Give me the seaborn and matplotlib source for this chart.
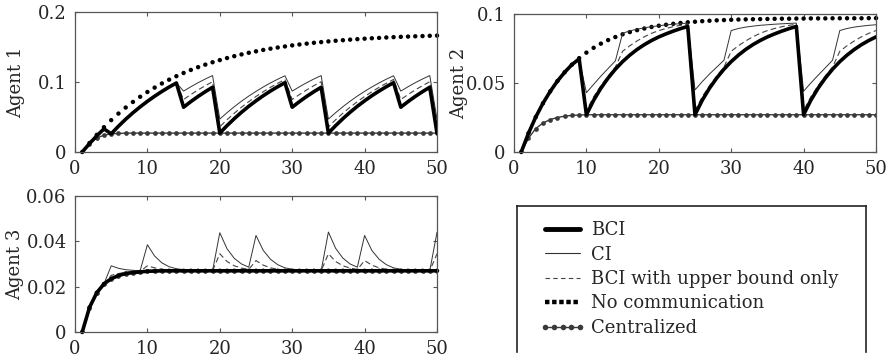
import matplotlib
matplotlib.use("Agg")
import matplotlib.pyplot as plt
import seaborn as sns
from matplotlib.lines import Line2D
from matplotlib.ticker import FixedLocator, FuncFormatter

# ---------------- data ----------------
time = list(range(1, 51))
x_ticks = [0, 10, 20, 30, 40, 50]
agent_names = ["Agent 1", "Agent 2", "Agent 3"]
y_ticks_1 = [0, 0.1, 0.2]
y_ticks_2 = [0, 0.05, 0.1]
y_ticks_3 = [0, 0.02, 0.04, 0.06]
series_names = ["BCI", "CI", "BCI with upper bound only", "No communication", "Centralized"]

# Agent 1
bci_1 = [0, 0.012, 0.023, 0.033, 0.026, 0.0368, 0.0468, 0.0560, 0.0645, 0.0724,
         0.0797, 0.0865, 0.0928, 0.0986, 0.0640, 0.0720, 0.0794, 0.0862, 0.0925, 0.0270,
         0.0377, 0.0476, 0.0568, 0.0653, 0.0731, 0.0804, 0.0871, 0.0933, 0.0990, 0.0640,
         0.0720, 0.0794, 0.0862, 0.0925, 0.0270, 0.0377, 0.0476, 0.0568, 0.0653, 0.0731,
         0.0804, 0.0871, 0.0933, 0.0990, 0.0640, 0.0720, 0.0794, 0.0862, 0.0925, 0.0270]
ci_1 = [0, 0.012, 0.023, 0.033, 0.026, 0.0368, 0.0468, 0.0560, 0.0645, 0.0724,
        0.0797, 0.0865, 0.0928, 0.0986, 0.0870, 0.0932, 0.0990, 0.1043, 0.1092, 0.0470,
        0.0562, 0.0647, 0.0726, 0.0799, 0.0866, 0.0929, 0.0987, 0.1040, 0.1089, 0.0870,
        0.0932, 0.0990, 0.1043, 0.1092, 0.0470, 0.0562, 0.0647, 0.0726, 0.0799, 0.0866,
        0.0929, 0.0987, 0.1040, 0.1089, 0.0870, 0.0932, 0.0990, 0.1043, 0.1092, 0.0470]
ub_1 = [0, 0.012, 0.023, 0.033, 0.026, 0.0368, 0.0468, 0.0560, 0.0645, 0.0724,
        0.0797, 0.0865, 0.0928, 0.0986, 0.0750, 0.0821, 0.0887, 0.0948, 0.1004, 0.0360,
        0.0461, 0.0554, 0.0640, 0.0719, 0.0793, 0.0861, 0.0924, 0.0982, 0.1036, 0.0750,
        0.0821, 0.0887, 0.0948, 0.1004, 0.0360, 0.0461, 0.0554, 0.0640, 0.0719, 0.0793,
        0.0861, 0.0924, 0.0982, 0.1036, 0.0750, 0.0821, 0.0887, 0.0948, 0.1004, 0.0360]
nocomm_1 = [0, 0.0128, 0.0245, 0.0354, 0.0455, 0.0549, 0.0635, 0.0715, 0.0789, 0.0857,
            0.0920, 0.0979, 0.1033, 0.1083, 0.1129, 0.1172, 0.1212, 0.1248, 0.1282, 0.1313,
            0.1342, 0.1369, 0.1394, 0.1417, 0.1438, 0.1458, 0.1476, 0.1493, 0.1508, 0.1523,
            0.1536, 0.1548, 0.1560, 0.1570, 0.1580, 0.1589, 0.1597, 0.1605, 0.1612, 0.1619,
            0.1625, 0.1630, 0.1636, 0.1641, 0.1645, 0.1649, 0.1653, 0.1656, 0.1660, 0.1663]
cent_1 = [0, 0.012, 0.020, 0.024, 0.026, 0.0265, 0.027, 0.027, 0.027, 0.027,
          0.027, 0.027, 0.027, 0.027, 0.027, 0.027, 0.027, 0.027, 0.027, 0.027,
          0.027, 0.027, 0.027, 0.027, 0.027, 0.027, 0.027, 0.027, 0.027, 0.027,
          0.027, 0.027, 0.027, 0.027, 0.027, 0.027, 0.027, 0.027, 0.027, 0.027,
          0.027, 0.027, 0.027, 0.027, 0.027, 0.027, 0.027, 0.027, 0.027, 0.027]

# Agent 2
bci_2 = [0, 0.0136, 0.0253, 0.0353, 0.0439, 0.0514, 0.0578, 0.0633, 0.0675, 0.0270,
         0.0375, 0.0462, 0.0536, 0.0600, 0.0655, 0.0702, 0.0743, 0.0778, 0.0808, 0.0834,
         0.0856, 0.0876, 0.0894, 0.0910, 0.0270, 0.0375, 0.0462, 0.0536, 0.0600, 0.0655,
         0.0702, 0.0743, 0.0778, 0.0808, 0.0834, 0.0856, 0.0876, 0.0894, 0.0910, 0.0270,
         0.0375, 0.0462, 0.0536, 0.0600, 0.0655, 0.0702, 0.0743, 0.0778, 0.0808, 0.0834]
ci_2 = [0, 0.0136, 0.0253, 0.0353, 0.0439, 0.0514, 0.0578, 0.0633, 0.0675, 0.0430,
        0.0490, 0.0550, 0.0605, 0.0660, 0.0860, 0.0878, 0.0890, 0.0900, 0.0908, 0.0915,
        0.0921, 0.0926, 0.0930, 0.0934, 0.0450, 0.0510, 0.0565, 0.0615, 0.0665, 0.0880,
        0.0895, 0.0905, 0.0912, 0.0918, 0.0922, 0.0926, 0.0929, 0.0932, 0.0934, 0.0440,
        0.0500, 0.0556, 0.0610, 0.0665, 0.0880, 0.0895, 0.0905, 0.0912, 0.0918, 0.0922]
ub_2 = [0, 0.0136, 0.0253, 0.0353, 0.0439, 0.0514, 0.0578, 0.0633, 0.0675, 0.0300,
        0.0400, 0.0480, 0.0550, 0.0615, 0.0730, 0.0770, 0.0805, 0.0835, 0.0860, 0.0880,
        0.0895, 0.0908, 0.0918, 0.0926, 0.0300, 0.0400, 0.0480, 0.0550, 0.0615, 0.0730,
        0.0770, 0.0805, 0.0835, 0.0860, 0.0880, 0.0895, 0.0908, 0.0918, 0.0926, 0.0300,
        0.0400, 0.0480, 0.0550, 0.0615, 0.0730, 0.0770, 0.0805, 0.0835, 0.0860, 0.0880]
nocomm_2 = [0, 0.0136, 0.0253, 0.0353, 0.0439, 0.0514, 0.0578, 0.0633, 0.0680, 0.0720,
            0.0755, 0.0785, 0.0811, 0.0833, 0.0853, 0.0869, 0.0883, 0.0895, 0.0906, 0.0915,
            0.0922, 0.0929, 0.0935, 0.0940, 0.0944, 0.0948, 0.0951, 0.0954, 0.0956, 0.0958,
            0.0960, 0.0961, 0.0962, 0.0963, 0.0964, 0.0965, 0.0966, 0.0966, 0.0967, 0.0967,
            0.0968, 0.0968, 0.0968, 0.0969, 0.0969, 0.0969, 0.0969, 0.0969, 0.0970, 0.0970]
cent_2 = [0, 0.0100, 0.0170, 0.0210, 0.0235, 0.0250, 0.0260, 0.0265, 0.0268, 0.0270,
          0.027, 0.027, 0.027, 0.027, 0.027, 0.027, 0.027, 0.027, 0.027, 0.027,
          0.027, 0.027, 0.027, 0.027, 0.027, 0.027, 0.027, 0.027, 0.027, 0.027,
          0.027, 0.027, 0.027, 0.027, 0.027, 0.027, 0.027, 0.027, 0.027, 0.027,
          0.027, 0.027, 0.027, 0.027, 0.027, 0.027, 0.027, 0.027, 0.027, 0.027]

# Agent 3
bci_3 = [0, 0.0108, 0.0173, 0.0212, 0.0235, 0.0249, 0.0258, 0.0262, 0.0265, 0.0268,
         0.0269, 0.0270, 0.0270, 0.0270, 0.0270, 0.0270, 0.0270, 0.0270, 0.0270, 0.0270,
         0.0270, 0.0270, 0.0270, 0.0270, 0.0270, 0.0270, 0.0270, 0.0270, 0.0270, 0.0270,
         0.0270, 0.0270, 0.0270, 0.0270, 0.0270, 0.0270, 0.0270, 0.0270, 0.0270, 0.0270,
         0.0270, 0.0270, 0.0270, 0.0270, 0.0270, 0.0270, 0.0270, 0.0270, 0.0270, 0.0270]
ci_3 = [0, 0.0108, 0.0173, 0.0212, 0.0292, 0.0281, 0.0275, 0.0272, 0.0271, 0.0385,
        0.0335, 0.0305, 0.0288, 0.0279, 0.0275, 0.0272, 0.0271, 0.0270, 0.0270, 0.0438,
        0.0367, 0.0325, 0.0300, 0.0286, 0.0426, 0.0360, 0.0321, 0.0297, 0.0283, 0.0277,
        0.0274, 0.0272, 0.0271, 0.0270, 0.0441, 0.0369, 0.0326, 0.0300, 0.0286, 0.0426,
        0.0360, 0.0321, 0.0297, 0.0283, 0.0277, 0.0274, 0.0272, 0.0271, 0.0270, 0.0440]
ub_3 = [0, 0.0108, 0.0173, 0.0212, 0.0250, 0.0258, 0.0263, 0.0266, 0.0268, 0.0292,
        0.0283, 0.0277, 0.0273, 0.0271, 0.0270, 0.0270, 0.0270, 0.0270, 0.0270, 0.0345,
        0.0311, 0.0292, 0.0282, 0.0276, 0.0315, 0.0295, 0.0283, 0.0277, 0.0273, 0.0271,
        0.0270, 0.0270, 0.0270, 0.0270, 0.0345, 0.0311, 0.0292, 0.0282, 0.0276, 0.0315,
        0.0295, 0.0283, 0.0277, 0.0273, 0.0271, 0.0270, 0.0270, 0.0270, 0.0270, 0.0345]
nocomm_3 = bci_3
cent_3 = bci_3

# ---------------- style ----------------
sns.set_theme(style="ticks")
plt.rcParams["font.family"] = ["DejaVu Serif"]
plt.rcParams["font.size"] = 13
plt.rcParams["axes.linewidth"] = 0.9
plt.rcParams["axes.edgecolor"] = "#555555"

W, H = 890, 361
fig = plt.figure(figsize=(W / 100, H / 100), dpi=100)
fig.patch.set_facecolor("white")


def px_axes(left, top, right, bottom):
    return fig.add_axes([left / W, 1 - bottom / H, (right - left) / W, (bottom - top) / H])


fmt = FuncFormatter(lambda v, p: f"{v:g}")

C_BCI = "#000000"
C_CI = "#333333"
C_UB = "#444444"
C_NC = "#000000"
C_CEN = "#3a3a3a"


def draw(ax, bci, ci, ub, nc, cen, yticks, name, label_x):
    sns.scatterplot(x=time, y=nc, ax=ax, color=C_NC, s=10, edgecolor="none",
                    legend=False, zorder=2, clip_on=False)
    sns.lineplot(x=time, y=cen, ax=ax, color=C_CEN, lw=1.0, marker="o", ms=3.4,
                 markeredgewidth=0, zorder=2.5)
    sns.lineplot(x=time, y=ub, ax=ax, color=C_UB, lw=0.8, dashes=(5, 3), zorder=3)
    sns.lineplot(x=time, y=ci, ax=ax, color=C_CI, lw=0.7, zorder=3.5)
    sns.lineplot(x=time, y=bci, ax=ax, color=C_BCI, lw=2.6, zorder=4)
    ax.set_xlim(0, 50)
    ax.set_ylim(yticks[0], yticks[-1])
    ax.xaxis.set_major_locator(FixedLocator(x_ticks))
    ax.yaxis.set_major_locator(FixedLocator(yticks))
    ax.xaxis.set_major_formatter(fmt)
    ax.yaxis.set_major_formatter(fmt)
    ax.tick_params(direction="in", length=3, width=0.8, color="#555555",
                   top=True, right=True, labelsize=13, pad=6)
    ax.set_xlabel("")
    ax.set_ylabel(name, fontsize=13)
    ax.yaxis.set_label_coords(label_x, 0.5)
    for s in ax.spines.values():
        s.set_visible(True)
        s.set_color("#555555")


ax1 = px_axes(75, 12, 437, 152)
draw(ax1, bci_1, ci_1, ub_1, nocomm_1, cent_1, y_ticks_1, agent_names[0], -0.138)
ax2 = px_axes(514, 14, 876, 152)
draw(ax2, bci_2, ci_2, ub_2, nocomm_2, cent_2, y_ticks_2, agent_names[1], -0.127)
ax3 = px_axes(75, 196, 437, 332)
draw(ax3, bci_3, ci_3, ub_3, nocomm_3, cent_3, y_ticks_3, agent_names[2], -0.141)

# legend box (open at the bottom, like the reference)
axl = px_axes(517, 206, 866, 352)
axl.set_xticks([])
axl.set_yticks([])
axl.set_facecolor("white")
for k, s in axl.spines.items():
    s.set_color("#222222")
    s.set_linewidth(1.2)
axl.spines["bottom"].set_visible(False)

handles = [
    Line2D([], [], color=C_BCI, lw=3.5),
    Line2D([], [], color=C_CI, lw=0.8),
    Line2D([], [], color=C_UB, lw=0.8, dashes=(4, 3)),
    Line2D([], [], color=C_NC, lw=3.2, ls=(0, (1, 0.6)), dash_capstyle="butt"),
    Line2D([], [], color=C_CEN, lw=1.0, marker="o", ms=4, markeredgewidth=0),
]
fig.legend(handles, series_names, loc="upper left",
           bbox_to_anchor=(540 / W, 1 - 221 / H), bbox_transform=fig.transFigure,
           frameon=False, fontsize=13, handlelength=2.5, handletextpad=0.35,
           labelspacing=0.36, borderaxespad=0, borderpad=0, numpoints=5)

fig.savefig("out.png", dpi=100, facecolor="white")
